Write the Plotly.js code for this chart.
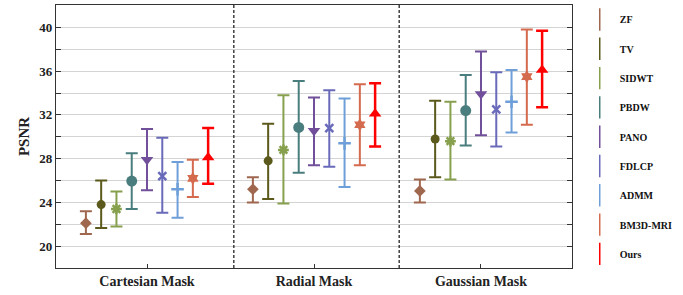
<!DOCTYPE html>
<html>
<head>
<meta charset="utf-8">
<script src="https://cdn.plot.ly/plotly-3.0.1.min.js"></script>
<style>html,body{margin:0;padding:0;background:#fff;}#chart{width:683px;height:295px;}</style>
</head>
<body>
<div id="chart"></div>
<script>
// Categories (masks) and tick labels
const groups = ['Cartesian Mask', 'Radial Mask', 'Gaussian Mask'];
const methods = ['ZF', 'TV', 'SIDWT', 'PBDW', 'PANO', 'FDLCP', 'ADMM', 'BM3D-MRI', 'Ours'];
const yTicks = [20, 24, 28, 32, 36, 40];

// PSNR values per method: [Cartesian, Radial, Gaussian]
const ZF_mean = [22.1, 25.2, 25.05];
const ZF_upper = [23.2, 26.3, 26.1];
const ZF_lower = [21.1, 24.0, 24.0];

const TV_mean = [23.8, 27.8, 29.8];
const TV_upper = [26.0, 31.2, 33.3];
const TV_lower = [21.65, 24.3, 26.3];

const SIDWT_mean = [23.4, 28.8, 29.6];
const SIDWT_upper = [25.0, 33.8, 33.2];
const SIDWT_lower = [21.8, 23.9, 26.1];

const PBDW_mean = [25.95, 30.85, 32.4];
const PBDW_upper = [28.5, 35.1, 35.65];
const PBDW_lower = [23.4, 26.7, 29.2];

const PANO_mean = [27.9, 30.55, 33.9];
const PANO_upper = [30.7, 33.6, 37.8];
const PANO_lower = [25.1, 27.4, 30.15];

const FDLCP_mean = [26.4, 30.8, 32.5];
const FDLCP_upper = [29.9, 34.25, 35.9];
const FDLCP_lower = [23.05, 27.25, 29.1];

const ADMM_mean = [25.2, 29.4, 33.2];
const ADMM_upper = [27.7, 33.5, 36.1];
const ADMM_lower = [22.6, 25.4, 30.4];

const BM3D_mean = [26.2, 31.1, 35.5];
const BM3D_upper = [27.9, 34.8, 39.8];
const BM3D_lower = [24.5, 27.4, 31.1];

const Ours_mean = [28.1, 32.1, 36.1];
const Ours_upper = [30.8, 34.9, 39.7];
const Ours_lower = [25.7, 29.1, 32.7];

const means = [ZF_mean, TV_mean, SIDWT_mean, PBDW_mean, PANO_mean, FDLCP_mean, ADMM_mean, BM3D_mean, Ours_mean];
const uppers = [ZF_upper, TV_upper, SIDWT_upper, PBDW_upper, PANO_upper, FDLCP_upper, ADMM_upper, BM3D_upper, Ours_upper];
const lowers = [ZF_lower, TV_lower, SIDWT_lower, PBDW_lower, PANO_lower, FDLCP_lower, ADMM_lower, BM3D_lower, Ours_lower];

// Styles
const colors = ['#a0674f', '#5b5a1c', '#86a04e', '#4a7d7d', '#714f9a', '#6a6abb', '#6f9fd8', '#d46a4e', '#ff0000'];
const symbols = ['diamond', 'circle', 'asterisk-open', 'circle', 'triangle-down', 'x-thin-open', 'cross-thin-open', 'hexagram', 'triangle-up'];
const sizes = [9, 9, 9, 11, 11, 8, 9, 10, 11];
const step = 0.0915;

const traces = [];
methods.forEach((m, k) => {
  const xs = groups.map((g, i) => i + (k - 4) * step);
  const isOpen = symbols[k].indexOf('open') >= 0;
  traces.push({
    type: 'scatter', mode: 'markers', name: m, showlegend: false,
    x: xs, y: means[k],
    marker: {symbol: symbols[k], size: sizes[k], color: colors[k],
             line: {color: colors[k], width: isOpen ? 2.5 : 0}},
    error_y: {type: 'data', symmetric: false,
              array: uppers[k].map((u, i) => u - means[k][i]),
              arrayminus: lowers[k].map((l, i) => means[k][i] - l),
              color: colors[k], thickness: k === 8 ? 2.5 : 2, width: 6},
    hoverinfo: 'name+y'
  });
});
// legend entries
methods.forEach((m, k) => {
  traces.push({
    type: 'scatter', mode: 'markers', name: m, x: [null], y: [null],
    legendgroup: m,
    marker: {symbol: 'line-ns-open', size: 16, color: colors[k], line: {color: colors[k], width: 1.5}}
  });
});

const layout = {
  width: 683, height: 295,
  margin: {l: 56, r: 102, t: 5, b: 27},
  paper_bgcolor: '#fff', plot_bgcolor: '#fff',
  font: {family: 'Liberation Serif, Times New Roman, serif', color: '#222'},
  showlegend: true,
  legend: {x: 1.015, y: 1.0, xanchor: 'left', yanchor: 'top',
           traceorder: 'grouped', tracegroupgap: 10.3,
           itemwidth: 30,
           font: {family: 'Liberation Serif, serif', size: 10, weight: 'bold', color: '#111'},
           bgcolor: 'rgba(0,0,0,0)'},
  xaxis: {
    range: [-0.545, 2.545], tickvals: [0, 1, 2], ticktext: groups,
    ticks: 'inside', ticklen: 4, tickcolor: '#333',
    showgrid: false, zeroline: false,
    showline: true, linecolor: '#333', linewidth: 1.2, mirror: true,
    tickfont: {family: 'Liberation Serif, serif', size: 14, weight: 'bold', color: '#222'}
  },
  yaxis: {
    range: [18, 42.05], tickvals: yTicks,
    ticks: 'inside', ticklen: 5, tickcolor: '#333',
    showgrid: true, gridcolor: '#d4d4d4', gridwidth: 1,
    minor: {dtick: 2, tick0: 0, ticks: 'inside', ticklen: 5, tickcolor: '#333', showgrid: true, gridcolor: '#d4d4d4', gridwidth: 1},
    zeroline: false,
    showline: true, linecolor: '#333', linewidth: 1.2, mirror: 'ticks',
    tickfont: {family: 'Liberation Serif, serif', size: 13, weight: 'bold', color: '#222'},
    title: {text: 'PSNR', standoff: 6, font: {family: 'Liberation Serif, serif', size: 15, weight: 'bold', color: '#222'}}
  },
  shapes: [0.52, 1.51].map(xv => ({
    type: 'line', xref: 'x', yref: 'paper', x0: xv, x1: xv, y0: 0, y1: 1,
    line: {color: '#111', width: 1.2, dash: '3px,2px'}
  }))
};

Plotly.newPlot('chart', traces, layout, {displayModeBar: false, staticPlot: true});
</script>
</body>
</html>
